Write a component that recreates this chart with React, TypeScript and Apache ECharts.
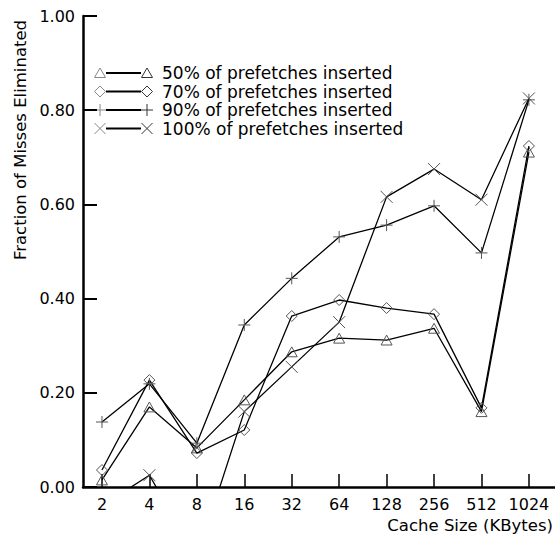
import React, { useEffect, useRef } from "react";
import * as echarts from "echarts";

const cacheSizes = [2, 4, 8, 16, 32, 64, 128, 256, 512, 1024];
const pct50 = [0.015, 0.17, 0.083, 0.185, 0.287, 0.316, 0.312, 0.337, 0.16, 0.711];
const pct70 = [0.036, 0.227, 0.072, 0.121, 0.363, 0.397, 0.38, 0.367, 0.168, 0.724];
const pct90 = [0.138, 0.219, 0.093, 0.344, 0.443, 0.531, 0.556, 0.597, 0.497, 0.822];
const pct100 = [-0.04, 0.025, -0.15, 0.16, 0.255, 0.35, 0.616, 0.675, 0.61, 0.825];
const seriesNames = [
  "50% of prefetches inserted",
  "70% of prefetches inserted",
  "90% of prefetches inserted",
  "100% of prefetches inserted",
];
const yTicks = [0, 0.2, 0.4, 0.6, 0.8, 1.0];

const FONT = "DejaVu Sans";
const MARK = "#555";

const trianglePath = "path://M5,0L10,9L0,9Z";
const diamondPath = "path://M5,0L10,5L5,10L0,5Z";
const plusPath = "path://M5,0L5,10M0,5L10,5";
const crossPath = "path://M0,0L10,10M10,0L0,10";

const symbols = [trianglePath, diamondPath, plusPath, crossPath];
const symbolSizes = [11, 11, 12, 12];

function legendMarker(kind: number, cx: number, cy: number, color: string) {
  const style = { stroke: color, fill: "none", lineWidth: 1 };
  if (kind === 0) {
    return [{ type: "polygon", shape: { points: [[cx, cy - 5], [cx - 5.5, cy + 4.5], [cx + 5.5, cy + 4.5]] }, style }];
  }
  if (kind === 1) {
    return [{ type: "polygon", shape: { points: [[cx, cy - 5.5], [cx + 5.5, cy], [cx, cy + 5.5], [cx - 5.5, cy]] }, style }];
  }
  if (kind === 2) {
    return [
      { type: "line", shape: { x1: cx - 6, y1: cy, x2: cx + 6, y2: cy }, style },
      { type: "line", shape: { x1: cx, y1: cy - 6, x2: cx, y2: cy + 6 }, style },
    ];
  }
  return [
    { type: "line", shape: { x1: cx - 5.5, y1: cy - 5.5, x2: cx + 5.5, y2: cy + 5.5 }, style },
    { type: "line", shape: { x1: cx + 5.5, y1: cy - 5.5, x2: cx - 5.5, y2: cy + 5.5 }, style },
  ];
}

export default function App() {
  const ref = useRef<HTMLDivElement>(null);
  useEffect(() => {
    if (!ref.current) return;
    const chart = echarts.init(ref.current, undefined, { renderer: "svg" });
    const xs = cacheSizes.map((c) => Math.log2(c));
    const all = [pct50, pct70, pct90, pct100];

    const legendEls: any[] = [];
    seriesNames.forEach((name, i) => {
      const cy = 73 + i * 18.5;
      legendEls.push(...legendMarker(i, 100, cy, "#888"));
      legendEls.push({ type: "line", shape: { x1: 106, y1: cy, x2: 141, y2: cy }, style: { stroke: "#000", lineWidth: 2 } });
      legendEls.push(...legendMarker(i, 147, cy, "#333"));
      legendEls.push({
        type: "text",
        x: 162,
        y: cy,
        style: { text: name, font: `17px '${FONT}'`, fill: "#000", textAlign: "left", textVerticalAlign: "middle" },
      });
    });

    chart.setOption({
      animation: false,
      backgroundColor: "#fff",
      grid: { left: 83, top: 16, right: 0, bottom: 49, containLabel: false },
      xAxis: {
        type: "value",
        min: 0.6,
        max: 10.55,
        splitLine: { show: false },
        axisLine: { show: true, onZero: false, lineStyle: { color: "#000", width: 2.5 } },
        axisTick: { show: true, inside: true, length: 13, customValues: xs, lineStyle: { color: "#000", width: 1.5 } },
        axisLabel: {
          customValues: xs,
          formatter: (v: number) => String(cacheSizes[Math.round(v) - 1] ?? ""),
          fontFamily: FONT,
          fontSize: 16,
          color: "#000",
          margin: 9,
        },
      },
      yAxis: {
        type: "value",
        min: 0,
        max: 1,
        interval: 0.2,
        splitLine: { show: false },
        axisLine: { show: true, lineStyle: { color: "#000", width: 2.5 } },
        axisTick: { show: true, inside: true, length: 14, customValues: yTicks, lineStyle: { color: "#000", width: 2 } },
        axisLabel: {
          formatter: (v: number) => v.toFixed(2),
          fontFamily: FONT,
          fontSize: 16,
          color: "#000",
          margin: 8,
        },
      },
      series: all.map((vals, i) => ({
        name: seriesNames[i],
        type: "line",
        clip: true,
        data: vals.map((v, j) => [xs[j], v]),
        symbol: symbols[i],
        symbolSize: symbolSizes[i],
        symbolKeepAspect: true,
        showAllSymbol: true,
        lineStyle: { color: "#000", width: 1.3 },
        itemStyle: { color: "rgba(0,0,0,0)", borderColor: MARK, borderWidth: 1 },
        z: 2 + i,
      })),
      graphic: [
        ...legendEls,
        {
          type: "text",
          x: 20,
          y: 140,
          rotation: Math.PI / 2,
          style: {
            text: "Fraction of Misses Eliminated",
            font: `16.5px '${FONT}'`,
            fill: "#000",
            textAlign: "center",
            textVerticalAlign: "middle",
          },
        },
        {
          type: "text",
          x: 553,
          y: 525,
          style: {
            text: "Cache Size (KBytes)",
            font: `16.5px '${FONT}'`,
            fill: "#000",
            textAlign: "right",
            textVerticalAlign: "middle",
          },
        },
      ],
    });
    return () => chart.dispose();
  }, []);
  return <div ref={ref} style={{ width: 555, height: 536, position: "absolute", left: 0, top: 0 }} />;
}
